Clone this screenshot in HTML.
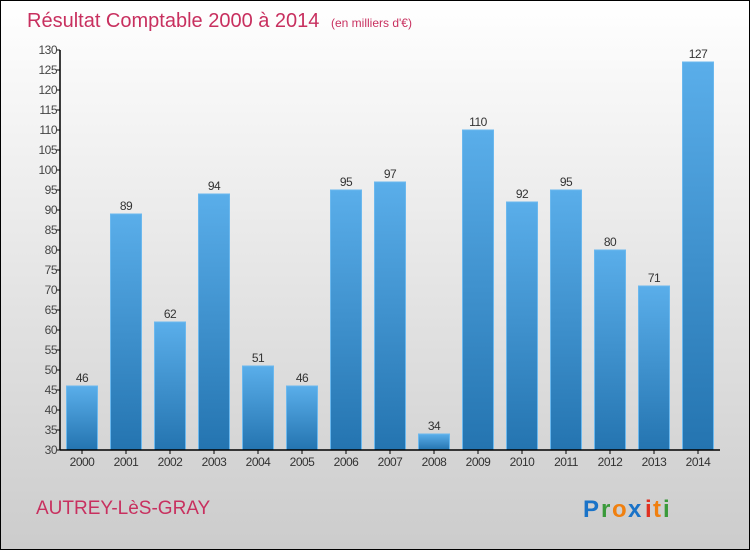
<!DOCTYPE html>
<html><head><meta charset="utf-8"><style>
body{margin:0;width:750px;height:550px;overflow:hidden;font-family:"Liberation Sans",sans-serif}
</style></head><body>
<svg width="750" height="550" xmlns="http://www.w3.org/2000/svg">
<defs>
<linearGradient id="bg" x1="0" y1="0" x2="0" y2="1"><stop offset="0" stop-color="#ffffff"/><stop offset="1" stop-color="#cccccc"/></linearGradient>
<linearGradient id="bar" x1="0" y1="0" x2="0" y2="1"><stop offset="0" stop-color="#5aaeea"/><stop offset="1" stop-color="#2474b0"/></linearGradient>
</defs>
<rect x="0.5" y="0.5" width="749" height="549" fill="url(#bg)" stroke="#000"/>
<text x="27" y="27" font-size="20" fill="#c8305f">Résultat Comptable 2000 à 2014 <tspan font-size="12" dx="6">(en milliers d'€)</tspan></text>
<g id="plot"></g>
<text x="36" y="514" font-size="19" fill="#c8305f">AUTREY-LèS-GRAY</text>
<g font-size="24" font-weight="bold">
<text x="583" y="517" fill="#1a73c8">P</text><text x="601" y="517" fill="#3a9a3a">r</text><text x="612" y="517" fill="#f08010">o</text><text x="628" y="517" fill="#1a73c8">x</text><text x="645" y="517" fill="#e03020">i</text><text x="653" y="517" fill="#f08010">t</text><text x="663" y="517" fill="#3a9a3a">i</text>
</g>
</svg>
<script>
const years=["2000","2001","2002","2003","2004","2005","2006","2007","2008","2009","2010","2011","2012","2013","2014"];
const values=[46,89,62,94,51,46,95,97,34,110,92,95,80,71,127];
const yTicks=[30,35,40,45,50,55,60,65,70,75,80,85,90,95,100,105,110,115,120,125,130];
const NS="http://www.w3.org/2000/svg";
const g=document.getElementById('plot');
const x0=60,x1=720,yMin=30,yMax=130,plotTop=50,plotBot=450;
const y=v=>plotBot-(v-yMin)/(yMax-yMin)*(plotBot-plotTop);
const step=44,first=82,bw=31;
const xc=i=>first+i*step;
function el(t,a){const e=document.createElementNS(NS,t);for(const k in a)e.setAttribute(k,a[k]);g.appendChild(e);return e;}
yTicks.forEach(v=>{
  const t=el('line',{x1:x0-4,x2:x0,y1:y(v),y2:y(v),stroke:'#000'});
  
  
  const l=el('text',{x:x0-3,y:y(v)+4,'text-anchor':'end','font-size':12,fill:'#444','letter-spacing':'-0.5'});
  l.textContent=v;
  
  
});
values.forEach((v,i)=>{
  const r=el('rect',{x:xc(i)-bw/2,y:y(v),width:bw,height:plotBot-y(v),fill:'url(#bar)',stroke:'#6bb8ee','stroke-width':1});
  
  
  const t=el('text',{x:xc(i),y:y(v)-4,'text-anchor':'middle','font-size':12,fill:'#333','letter-spacing':'-0.5'});
  t.textContent=v;
  
  
  const tk=el('line',{x1:xc(i),x2:xc(i),y1:plotBot,y2:plotBot+4,stroke:'#000'});
  
  
  const xl=el('text',{x:xc(i),y:plotBot+16,'text-anchor':'middle','font-size':12,fill:'#333','letter-spacing':'-0.5'});
  xl.textContent=years[i];
  
  
});
const ya=el('line',{x1:x0,x2:x0,y1:plotTop,y2:plotBot,stroke:'#000','stroke-width':1.5});


const xa=el('line',{x1:x0,x2:x1,y1:plotBot,y2:plotBot,stroke:'#000','stroke-width':1.5});


</script>
</body></html>
